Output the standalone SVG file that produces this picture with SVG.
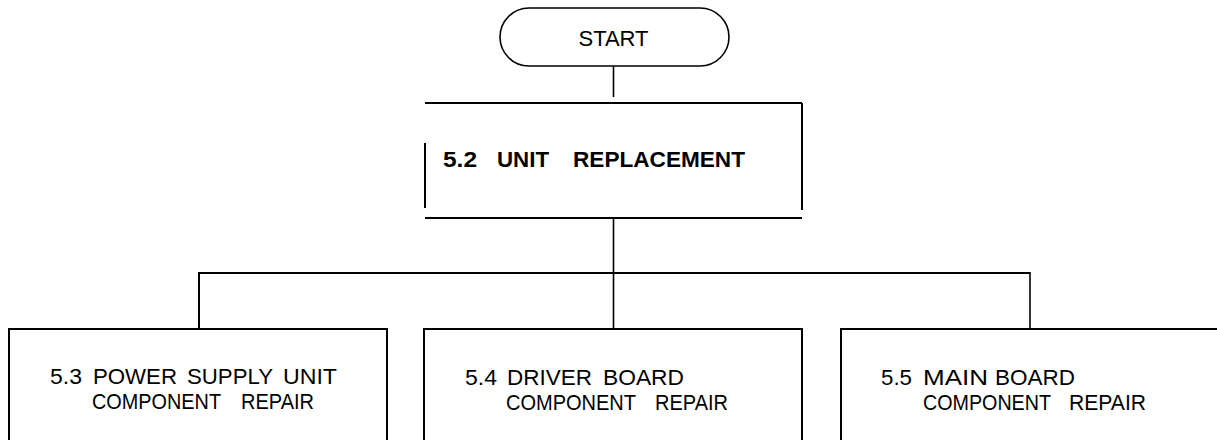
<svg xmlns="http://www.w3.org/2000/svg" width="1217" height="440" viewBox="0 0 1217 440">
<style>
.ln{stroke:#000;stroke-width:2;fill:none}
.thin{stroke:#000;stroke-width:1.6;fill:none}
.t{font-family:"Liberation Sans",Arial,sans-serif;fill:#000}
.l1{font-size:22px}
.l2{font-size:22px}
.b{font-weight:bold;font-size:22px}
</style>
<rect width="1217" height="440" fill="#fff"/>
<g id="start">
<rect class="thin" x="500" y="8" width="229" height="58" rx="29" ry="29"/>
<text class="t" x="613.5" y="46" font-size="22" text-anchor="middle">START</text>
</g>
<g id="unit-replacement">
<line class="ln" x1="425" y1="103" x2="802" y2="103"/>
<line class="ln" x1="802" y1="103" x2="802" y2="210"/>
<line class="ln" x1="425" y1="143" x2="425" y2="208"/>
<line class="ln" x1="425" y1="218" x2="802" y2="218"/>
<text class="t b" y="167"><tspan x="443" textLength="34" lengthAdjust="spacingAndGlyphs">5.2</tspan><tspan x="497" textLength="52" lengthAdjust="spacingAndGlyphs">UNIT</tspan><tspan x="573" textLength="172" lengthAdjust="spacingAndGlyphs">REPLACEMENT</tspan></text>
</g>
<g id="connectors">
<line class="thin" x1="613.5" y1="66" x2="613.5" y2="97"/>
<line class="thin" x1="613.5" y1="218" x2="613.5" y2="329"/>
<line class="ln" x1="199" y1="273" x2="1030" y2="273"/>
<line class="ln" x1="199" y1="272" x2="199" y2="329"/>
<line class="thin" x1="1030" y1="272" x2="1030" y2="329"/>
</g>
<g id="power-supply">
<path class="ln" d="M9,441 V329 H387 V441"/>
<text class="t l1"><tspan x="50" y="384" textLength="32" lengthAdjust="spacingAndGlyphs">5.3</tspan><tspan x="93" y="384" textLength="84" lengthAdjust="spacingAndGlyphs">POWER</tspan><tspan x="187" y="384" textLength="86" lengthAdjust="spacingAndGlyphs">SUPPLY</tspan><tspan x="283" y="384" textLength="54" lengthAdjust="spacingAndGlyphs">UNIT</tspan><tspan class="l2" x="92" y="409" textLength="129" lengthAdjust="spacingAndGlyphs">COMPONENT</tspan><tspan class="l2" x="241" y="409" textLength="73" lengthAdjust="spacingAndGlyphs">REPAIR</tspan></text>
</g>
<g id="driver-board">
<path class="ln" d="M424,441 V329 H802 V441"/>
<text class="t l1"><tspan x="465" y="385" textLength="32" lengthAdjust="spacingAndGlyphs">5.4</tspan><tspan x="507" y="385" textLength="85" lengthAdjust="spacingAndGlyphs">DRIVER</tspan><tspan x="603" y="385" textLength="81" lengthAdjust="spacingAndGlyphs">BOARD</tspan><tspan class="l2" x="506" y="410" textLength="130" lengthAdjust="spacingAndGlyphs">COMPONENT</tspan><tspan class="l2" x="655" y="410" textLength="73" lengthAdjust="spacingAndGlyphs">REPAIR</tspan></text>
</g>
<g id="main-board">
<path class="ln" d="M841,441 V329 H1218"/>
<text class="t l1"><tspan x="881" y="385" textLength="31" lengthAdjust="spacingAndGlyphs">5.5</tspan><tspan x="923" y="385" textLength="65" lengthAdjust="spacingAndGlyphs">MAIN</tspan><tspan x="995" y="385" textLength="80" lengthAdjust="spacingAndGlyphs">BOARD</tspan><tspan class="l2" x="923" y="410" textLength="128" lengthAdjust="spacingAndGlyphs">COMPONENT</tspan><tspan class="l2" x="1069" y="410" textLength="77" lengthAdjust="spacingAndGlyphs">REPAIR</tspan></text>
</g>
</svg>
